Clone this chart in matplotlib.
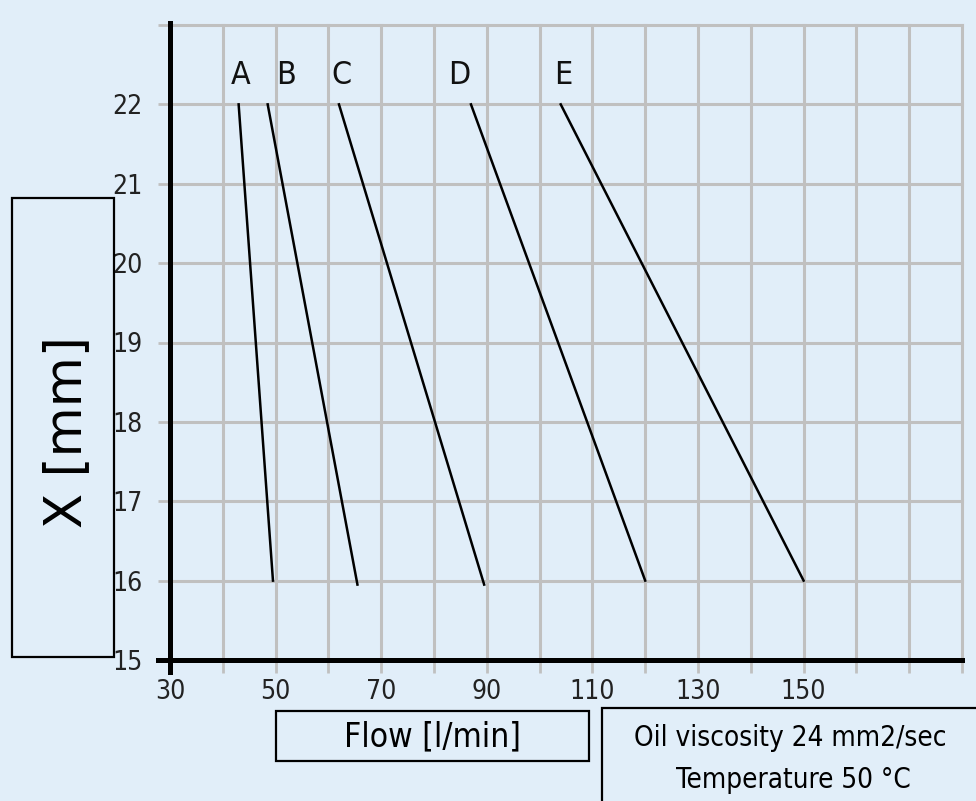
import matplotlib.pyplot as plt
from matplotlib.patches import Rectangle

# curvas X vs caudal (punto superior y punto inferior de cada recta)
curvas = ["A", "B", "C", "D", "E"]
flujo_arriba = [43, 48.5, 62, 87, 104]
flujo_abajo = [49.5, 65.5, 89.5, 120, 150]
x_arriba = [22, 22, 22, 22, 22]
x_abajo = [16, 15.95, 15.95, 16, 16]
etiqueta_flujo = [43.3, 52, 62.5, 84.7, 104.5]
etiqueta_x = [22.37, 22.37, 22.37, 22.37, 22.37]

xticks = list(range(30, 190, 10))
xtick_labels = ["30", "", "50", "", "70", "", "90", "", "110", "", "130", "", "150", "", "", ""]
yticks = list(range(15, 24))
ytick_labels = ["15", "16", "17", "18", "19", "20", "21", "22", ""]

FONDO = "#e1eef9"
GRIS = "#c0c0c0"

# fuente angosta (tipo plano tecnico)
fp = dict(family="DejaVu Sans", stretch="condensed", weight="normal")

fig = plt.figure(figsize=(9.76, 8.01), dpi=100, facecolor=FONDO)
ax = fig.add_axes([170 / 976, 1 - 660 / 801, 792 / 976, 635 / 801])
ax.set_facecolor(FONDO)

ax.set_xlim(30, 180)
ax.set_ylim(15, 23)
ax.set_xticks(xticks)
ax.set_xticklabels(xtick_labels, fontsize=19, **fp)
ax.set_yticks(yticks)
ax.set_yticklabels(ytick_labels, fontsize=19, **fp)
ax.tick_params(axis="both", colors=GRIS, length=9, width=2, labelcolor="#222222")
ax.tick_params(axis="x", pad=5)
ax.tick_params(axis="y", pad=11)
ax.grid(True, color=GRIS, linewidth=2.2, clip_on=False)
ax.set_axisbelow(True)

for lado in ["top", "right"]:
    ax.spines[lado].set_visible(False)
for lado in ["left", "bottom"]:
    ax.spines[lado].set_linewidth(3.6)
    ax.spines[lado].set_color("black")
    ax.spines[lado].set_zorder(3)

# pequeños sobrantes de los ejes
ax.plot([30, 30], [14.85, 23.03], color="black", lw=3.6, clip_on=False, zorder=4)
ax.plot([27.8, 180], [15, 15], color="black", lw=3.6, clip_on=False, zorder=4)

for i, nombre in enumerate(curvas):
    ax.plot([flujo_arriba[i], flujo_abajo[i]], [x_arriba[i], x_abajo[i]],
            color="black", lw=1.8, zorder=5)
    ax.text(etiqueta_flujo[i], etiqueta_x[i], nombre, fontsize=23,
            ha="center", va="center", color="#111111", **fp)

# cajas de texto
fig.patches.append(Rectangle((12 / 976, 1 - 657 / 801), 102 / 976, 459 / 801,
                             transform=fig.transFigure, fill=False, lw=1.6, ec="black"))
fig.text(67 / 976, 1 - 432 / 801, "X [mm]", rotation=90, fontsize=37,
         ha="center", va="center", family="DejaVu Sans")

fig.patches.append(Rectangle((276 / 976, 1 - 761 / 801), 313 / 976, 50 / 801,
                             transform=fig.transFigure, fill=False, lw=1.6, ec="black"))
fig.text(433 / 976, 1 - 737 / 801, "Flow [l/min]", fontsize=24,
         ha="center", va="center", **fp)

fig.patches.append(Rectangle((602 / 976, 1 - 820 / 801), 400 / 976, 112 / 801,
                             transform=fig.transFigure, fill=False, lw=1.6, ec="black"))
fig.text(790 / 976, 1 - 738 / 801, "Oil viscosity 24 mm2/sec", fontsize=20,
         ha="center", va="center", **fp)
fig.text(793 / 976, 1 - 780 / 801, "Temperature 50 °C", fontsize=20,
         ha="center", va="center", **fp)

fig.savefig("out.png", dpi=100, facecolor=FONDO)
